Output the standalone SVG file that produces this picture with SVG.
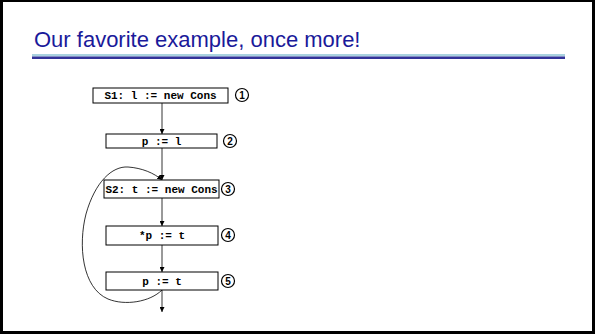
<svg xmlns="http://www.w3.org/2000/svg" width="595" height="334" viewBox="0 0 595 334">
  <style>
    .title { font-family: "Liberation Sans", Arial, sans-serif; font-size: 22px; fill: #1a1a9a; }
    .box { fill: #ffffff; stroke: #000000; stroke-width: 1; }
    .code { font-family: "Liberation Mono", "Courier New", monospace; font-weight: bold; font-size: 11px; fill: #000000; text-anchor: middle; }
    .num circle { fill: #ffffff; stroke: #000000; stroke-width: 1.2; }
    .num text { font-family: "Liberation Sans", Arial, sans-serif; font-weight: bold; font-size: 10px; fill: #000000; text-anchor: middle; }
    .edge { fill: none; stroke: #000000; stroke-width: 0.8; }
  </style>
  <defs>
    <marker id="arrow" viewBox="0 0 8 8" refX="8" refY="4" markerWidth="5" markerHeight="5" orient="auto" markerUnits="userSpaceOnUse">
      <path d="M0,0 L8,4 L0,8 Z" fill="#000000"/>
    </marker>
  </defs>

  <!-- slide frame -->
  <rect x="0" y="0" width="595" height="334" fill="#000000"/>
  <rect x="3" y="2" width="589" height="329" fill="#ffffff"/>

  <!-- heading -->
  <text class="title" x="34" y="47">Our favorite example, once more!</text>
  <rect x="32" y="54" width="533" height="2.5" fill="#a9d2df"/>
  <rect x="32" y="56.5" width="533" height="2.5" fill="#333399"/>

  <!-- connectors -->
  <g id="connectors">
    <line class="edge" x1="162" y1="103" x2="162" y2="134" marker-end="url(#arrow)"/>
    <line class="edge" x1="162" y1="148" x2="162" y2="180" marker-end="url(#arrow)"/>
    <line class="edge" x1="162" y1="198" x2="162" y2="226" marker-end="url(#arrow)"/>
    <line class="edge" x1="162" y1="245" x2="162" y2="272" marker-end="url(#arrow)"/>
    <line class="edge" x1="162" y1="290" x2="162" y2="312" marker-end="url(#arrow)"/>
    <path class="edge" d="M162,290 C150,302 125,306 108,299 C82,288 78,245 86,214 C95,182 112,166 128,167 C142,168 154,173 162,180" marker-end="url(#arrow)"/>
  </g>

  <!-- nodes -->
  <g id="n1">
    <rect class="box" x="93" y="88" width="135" height="15"/>
    <text class="code" x="160.5" y="99">S1: l := new Cons</text>
    <g class="num"><circle cx="242" cy="95" r="6.5"/><text x="242" y="98.6">1</text></g>
  </g>
  <g id="n2">
    <rect class="box" x="106" y="134" width="111" height="14"/>
    <text class="code" x="161.5" y="144.5">p := l</text>
    <g class="num"><circle cx="230" cy="141" r="6.5"/><text x="230" y="144.6">2</text></g>
  </g>
  <g id="n3">
    <rect class="box" x="104" y="180" width="115" height="18"/>
    <text class="code" x="161.5" y="192.5">S2: t := new Cons</text>
    <g class="num"><circle cx="228" cy="189" r="6.5"/><text x="228" y="192.6">3</text></g>
  </g>
  <g id="n4">
    <rect class="box" x="106" y="226" width="112" height="19"/>
    <text class="code" x="162" y="239">*p := t</text>
    <g class="num"><circle cx="228" cy="235" r="6.5"/><text x="228" y="238.6">4</text></g>
  </g>
  <g id="n5">
    <rect class="box" x="106" y="272" width="112" height="18"/>
    <text class="code" x="162" y="284.5">p := t</text>
    <g class="num"><circle cx="228" cy="281" r="6.5"/><text x="228" y="284.6">5</text></g>
  </g>
</svg>
